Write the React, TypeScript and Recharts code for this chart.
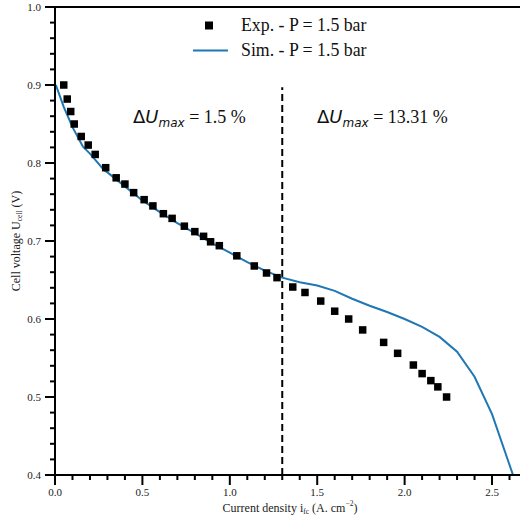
import React from "react"
import {
  ComposedChart,
  Scatter,
  Line,
  XAxis,
  YAxis,
  ReferenceLine,
} from "recharts"

// experimental polarization curve (squares)
const EXP_I = [
  0.05, 0.07, 0.09, 0.11, 0.15, 0.19, 0.23, 0.29, 0.35, 0.4, 0.45, 0.51, 0.56,
  0.62, 0.67, 0.74, 0.8, 0.85, 0.89, 0.94, 1.04, 1.14, 1.21, 1.27, 1.36, 1.43,
  1.52, 1.6, 1.68, 1.76, 1.88, 1.96, 2.05, 2.1, 2.15, 2.19, 2.24,
]
const EXP_U = [
  0.9, 0.882, 0.866, 0.85, 0.834, 0.823, 0.811, 0.794, 0.781, 0.773, 0.762,
  0.753, 0.745, 0.735, 0.729, 0.719, 0.712, 0.706, 0.699, 0.694, 0.681, 0.668,
  0.659, 0.653, 0.641, 0.634, 0.623, 0.61, 0.6, 0.586, 0.57, 0.556, 0.541,
  0.53, 0.521, 0.513, 0.5,
]

// simulated curve (blue line)
const SIM_I = [
  0.005, 0.05, 0.1, 0.16, 0.2, 0.28, 0.3, 0.4, 0.5, 0.6, 0.7, 0.8, 0.9, 1.0,
  1.1, 1.2, 1.3, 1.4, 1.5, 1.6, 1.7, 1.8, 1.9, 2.0, 2.1, 2.2, 2.3, 2.4, 2.5,
  2.62,
]
const SIM_U = [
  0.9, 0.872, 0.846, 0.821, 0.812, 0.791, 0.788, 0.77, 0.752, 0.737, 0.723,
  0.71, 0.697, 0.685, 0.673, 0.662, 0.653, 0.647, 0.643, 0.636, 0.626, 0.617,
  0.609, 0.6, 0.59, 0.577, 0.558, 0.526, 0.478, 0.4,
]

const X_MAJOR = [0, 0.5, 1.0, 1.5, 2.0, 2.5]
const X_MINOR = [
  0.1, 0.2, 0.3, 0.4, 0.6, 0.7, 0.8, 0.9, 1.1, 1.2, 1.3, 1.4, 1.6, 1.7, 1.8,
  1.9, 2.1, 2.2, 2.3, 2.4, 2.6,
]
const Y_MAJOR = [0.4, 0.5, 0.6, 0.7, 0.8, 0.9, 1.0]
const Y_MINOR = [
  0.42, 0.44, 0.46, 0.48, 0.52, 0.54, 0.56, 0.58, 0.62, 0.64, 0.66, 0.68,
  0.72, 0.74, 0.76, 0.78, 0.82, 0.84, 0.86, 0.88, 0.92, 0.94, 0.96, 0.98,
]

const SPLIT_I = 1.3
const EXP_NAME = "Exp. - P = 1.5 bar"
const SIM_NAME = "Sim. - P = 1.5 bar"
const DELTA_LOW = "1.5 %"
const DELTA_HIGH = "13.31 %"

const expData = EXP_I.map((x, i) => ({ x, y: EXP_U[i] }))
const simData = SIM_I.map((x, i) => ({ x, y: SIM_U[i] }))

const X_DOMAIN = [0, 2.66]
const Y_DOMAIN = [0.4, 1.0]

// plot box (matches chart margins / axis sizes below)
const PLOT_L = 55
const PLOT_T = 7
const PLOT_W = 465
const PLOT_H = 468
const px = (v: number) => PLOT_L + ((v - X_DOMAIN[0]) / (X_DOMAIN[1] - X_DOMAIN[0])) * PLOT_W
const py = (v: number) => PLOT_T + ((Y_DOMAIN[1] - v) / (Y_DOMAIN[1] - Y_DOMAIN[0])) * PLOT_H

const SERIF = "'Liberation Serif', 'DejaVu Serif', serif"
const SANS = "'DejaVu Sans', sans-serif"
const BLUE = "#1f77b4"
const tickStyle = { fontSize: 11, fontFamily: SERIF, fill: "#222" }
const fmt = (v: number) => v.toFixed(1)

const renderXLabel = () => (
  <text x={290} y={508} textAnchor="middle" dominantBaseline="central" fontSize={12} fontFamily={SERIF} fill="#222">
    Current density i
    <tspan fontSize={7.5} dy={3}>fc</tspan>
    <tspan dy={-3}> (A. cm</tspan>
    <tspan fontSize={7.5} dy={-5}>−2</tspan>
    <tspan dy={5}>)</tspan>
  </text>
)

const renderYLabel = () => (
  <text x={16} y={241} transform="rotate(-90 16 241)" textAnchor="middle" dominantBaseline="central" fontSize={12} fontFamily={SERIF} fill="#222">
    Cell voltage U
    <tspan fontSize={7.5} dy={3}>cell</tspan>
    <tspan dy={-3}> (V)</tspan>
  </text>
)

function Delta({ left, value }: { left: number; value: string }) {
  return (
    <div style={{ position: "absolute", left, top: 106, fontSize: 18, fontFamily: SERIF, color: "#111", whiteSpace: "nowrap" }}>
      <span style={{ fontFamily: SANS }}>
        Δ<i>U</i>
        <i style={{ fontSize: 12, position: "relative", top: 4 }}>max</i>
      </span>{" "}
      = {value}
    </div>
  )
}

// outward tick marks (major long, minor short)
function TickMarks() {
  const bottom = PLOT_T + PLOT_H
  return (
    <svg width={521} height={520} style={{ position: "absolute", left: 0, top: 0, pointerEvents: "none" }}>
      <g stroke="#000" strokeWidth={2}>
        {X_MAJOR.map((v) => <line key={`xM${v}`} x1={px(v)} x2={px(v)} y1={bottom} y2={bottom + 10} />)}
        {X_MINOR.map((v) => <line key={`xm${v}`} x1={px(v)} x2={px(v)} y1={bottom} y2={bottom + 5} />)}
        {Y_MAJOR.map((v) => <line key={`yM${v}`} x1={PLOT_L} x2={PLOT_L - 10} y1={py(v)} y2={py(v)} />)}
        {Y_MINOR.map((v) => <line key={`ym${v}`} x1={PLOT_L} x2={PLOT_L - 5} y1={py(v)} y2={py(v)} />)}
      </g>
    </svg>
  )
}

export default function App() {
  return (
    <div style={{ position: "absolute", left: 0, top: 0, width: 521, height: 520, background: "#fff" }}>
      <ComposedChart width={521} height={520} margin={{ top: 7, right: 1, bottom: 0, left: 0 }}>
        <XAxis
          type="number"
          dataKey="x"
          domain={X_DOMAIN}
          ticks={X_MAJOR}
          interval={0}
          allowDataOverflow
          height={45}
          tickSize={10}
          tickMargin={3}
          tick={tickStyle}
          tickFormatter={fmt}
          tickLine={false}
          axisLine={{ stroke: "#000", strokeWidth: 2 }}
          label={renderXLabel}
        />
        <YAxis
          type="number"
          dataKey="y"
          domain={Y_DOMAIN}
          ticks={Y_MAJOR}
          interval={0}
          allowDataOverflow
          width={55}
          tickSize={10}
          tickMargin={4}
          tick={tickStyle}
          tickFormatter={fmt}
          tickLine={false}
          axisLine={{ stroke: "#000", strokeWidth: 2 }}
          label={renderYLabel}
        />
        <ReferenceLine y={1.0} stroke="#000" strokeWidth={2} />
        <ReferenceLine
          segment={[{ x: SPLIT_I, y: 0.4 }, { x: SPLIT_I, y: 0.897 }]}
          stroke="#000"
          strokeWidth={2}
          strokeDasharray="7 4"
        />
        <Scatter
          name={EXP_NAME}
          data={expData}
          isAnimationActive={false}
          shape={(p: any) => <rect x={p.cx - 3.75} y={p.cy - 3.75} width={7.5} height={7.5} fill="#000" />}
        />
        <Line
          name={SIM_NAME}
          data={simData}
          dataKey="y"
          type="linear"
          stroke={BLUE}
          strokeWidth={2}
          dot={false}
          isAnimationActive={false}
        />
      </ComposedChart>

      <TickMarks />

      {/* legend */}
      <div style={{ position: "absolute", left: 190, top: 13, fontFamily: SERIF, fontSize: 17.8, color: "#111", lineHeight: "25px" }}>
        <div style={{ display: "flex", alignItems: "center" }}>
          <svg width={51} height={25}>
            <rect x={15} y={8.5} width={8} height={8} fill="#000" />
          </svg>
          <span>{EXP_NAME}</span>
        </div>
        <div style={{ display: "flex", alignItems: "center" }}>
          <svg width={51} height={25}>
            <line x1={3} x2={38} y1={12.5} y2={12.5} stroke={BLUE} strokeWidth={2} />
          </svg>
          <span>{SIM_NAME}</span>
        </div>
      </div>

      <Delta left={133} value={DELTA_LOW} />
      <Delta left={317} value={DELTA_HIGH} />
    </div>
  )
}
